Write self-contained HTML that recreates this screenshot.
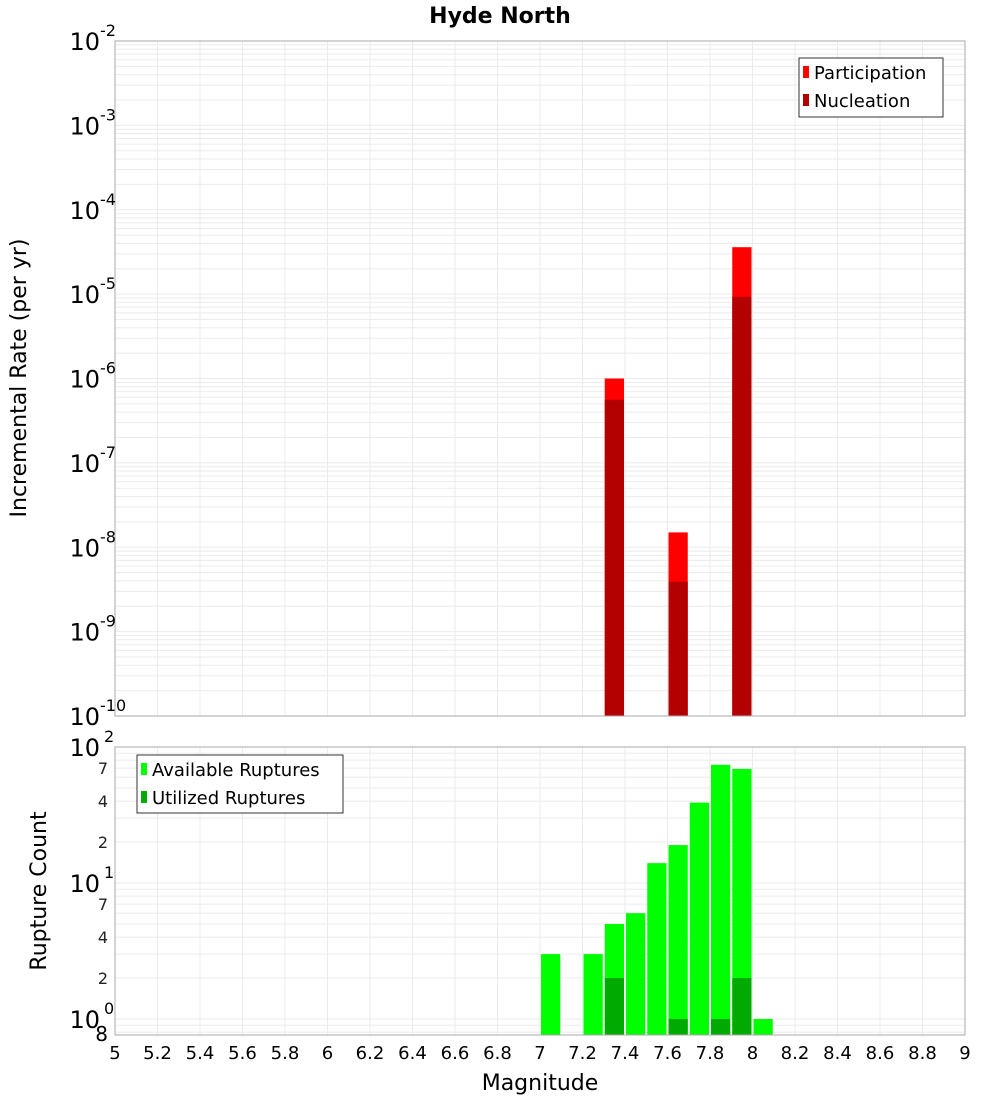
<!DOCTYPE html>
<html><head><meta charset="utf-8"><style>
body{margin:0;background:#fff;width:1000px;height:1100px;overflow:hidden}
text{font-family:"DejaVu Sans","Liberation Sans",sans-serif}
</style></head><body>
<svg id="c" width="1000" height="1100" xmlns="http://www.w3.org/2000/svg"></svg>
<script>
const binStarts=[7.3,7.6,7.9];
const participation=[1.0e-6,1.5e-8,3.6e-5];
const nucleation=[5.6e-7,3.9e-9,9.3e-6];
const countBins=[7.0,7.2,7.3,7.4,7.5,7.6,7.7,7.8,7.9,8.0];
const available=[3,3,5,6,14,19,39,74,69,1];
const utilizedBins=[7.3,7.6,7.8,7.9];
const utilized=[2,1,1,2];
const xTicks=[5,5.2,5.4,5.6,5.8,6,6.2,6.4,6.6,6.8,7,7.2,7.4,7.6,7.8,8,8.2,8.4,8.6,8.8,9];
const topExps=[-2,-3,-4,-5,-6,-7,-8,-9,-10];
const botMinor=[2,4,7,20,40,70];

const NS="http://www.w3.org/2000/svg",svg=document.getElementById('c');
function el(t,a,txt){const e=document.createElementNS(NS,t);for(const k in a)e.setAttribute(k,a[k]);if(txt!==undefined)e.textContent=txt;svg.appendChild(e);return e;}
const X0=115,X1=965;
const x=m=>X0+(m-5)/4*(X1-X0);
const T0=41,T1=716;
const yT=v=>T0+(-2-Math.log10(v))/8*(T1-T0);
const B0=747,Bdec=136;
const yB=v=>B0+(2-Math.log10(v))*Bdec;
const B1=1035;

// grids
for(let m=5;m<=9.001;m+=0.2){
 let l=el('line',{x1:x(m),x2:x(m),y1:T0,y2:T1,stroke:'#ebebeb'});
 let l2=el('line',{x1:x(m),x2:x(m),y1:B0,y2:B1,stroke:'#ebebeb'});
}
for(let e=-10;e<-2;e++)for(let k=1;k<10;k++){const y=yT(k*Math.pow(10,e));
 let l=el('line',{x1:X0,x2:X1,y1:y,y2:y,stroke:'#ebebeb'});}
for(let e=-1;e<2;e++)for(let k=1;k<10;k++){const v=k*Math.pow(10,e);const y=yB(v);if(y>B1)continue;
 let l=el('line',{x1:X0,x2:X1,y1:y,y2:y,stroke:'#ebebeb'});}

// top bars
binStarts.forEach((b,i)=>{
 let r=el('rect',{x:x(b)+1,y:yT(participation[i]),width:x(b+0.1)-x(b)-2,height:T1-yT(participation[i]),fill:'#ff0000'});
 
 let r2=el('rect',{x:x(b)+1,y:yT(nucleation[i]),width:x(b+0.1)-x(b)-2,height:T1-yT(nucleation[i]),fill:'#b30000'});
 
});
// bottom bars
countBins.forEach((b,i)=>{
 let r=el('rect',{x:x(b)+1,y:yB(available[i]),width:x(b+0.1)-x(b)-2,height:B1-yB(available[i]),fill:'#00ff00'});
 
});
utilizedBins.forEach((b,i)=>{
 let r=el('rect',{x:x(b)+1,y:yB(utilized[i]),width:x(b+0.1)-x(b)-2,height:B1-yB(utilized[i]),fill:'#00aa00'});
 
});
// frames
let f1=el('rect',{x:X0,y:T0,width:X1-X0,height:T1-T0,fill:'none',stroke:'#aaa'});
let f2=el('rect',{x:X0,y:B0,width:X1-X0,height:B1-B0,fill:'none',stroke:'#aaa'});

// top y ticks
topExps.forEach(e=>{const y=yT(Math.pow(10,e));
 let t=el('text',{x:100,y:y+9,'font-size':24,'text-anchor':'end'},'10');
 let s=el('text',{x:100,y:y-5,'font-size':16},String(e));
});
// bottom y ticks
[[100,'2'],[10,'1'],[1,'0']].forEach(([v,e])=>{const y=yB(v);
 let t=el('text',{x:100,y:y+9,'font-size':24,'text-anchor':'end'},'10');
 let s=el('text',{x:104,y:y-5,'font-size':16},e);
});
botMinor.forEach(v=>{const y=yB(v);
 let t=el('text',{x:108,y:y+6,'font-size':16,'text-anchor':'end',fill:'#222'},String(v).charAt(0));});
let t8=el('text',{x:108,y:1041,'font-size':20,'text-anchor':'end'},'8');

xTicks.forEach(m=>{let t=el('text',{x:x(m),y:1059,'font-size':18,'text-anchor':'middle'},String(m));});

// titles
let tt=el('text',{x:500,y:23,'font-size':22,'font-weight':'bold','text-anchor':'middle'},'Hyde North');
let xt=el('text',{x:540,y:1090,'font-size':22,'text-anchor':'middle'},'Magnitude');
let yt=el('text',{x:0,y:0,'font-size':22,'text-anchor':'middle',transform:'translate(26,378) rotate(-90)'},'Incremental Rate (per yr)');
let yt2=el('text',{x:0,y:0,'font-size':22,'text-anchor':'middle',transform:'translate(46,891) rotate(-90)'},'Rupture Count');

// legends
function legend(x0,y0,w,h,items,nm){
 let b=el('rect',{x:x0,y:y0,width:w,height:h,fill:'#fff',stroke:'#333'});
 items.forEach(([c,l],i)=>{const yy=y0+15+i*28;
  let s=el('rect',{x:x0+4,y:yy-7,width:6,height:12,fill:c});
  let t=el('text',{x:x0+15,y:yy+6,'font-size':18},l);});
}
legend(799,58,144,59,[['#ff0000','Participation'],['#b30000','Nucleation']],'legend-top');
legend(137,755,206,58,[['#00ff00','Available Ruptures'],['#00aa00','Utilized Ruptures']],'legend-bottom');
</script>
</body></html>
